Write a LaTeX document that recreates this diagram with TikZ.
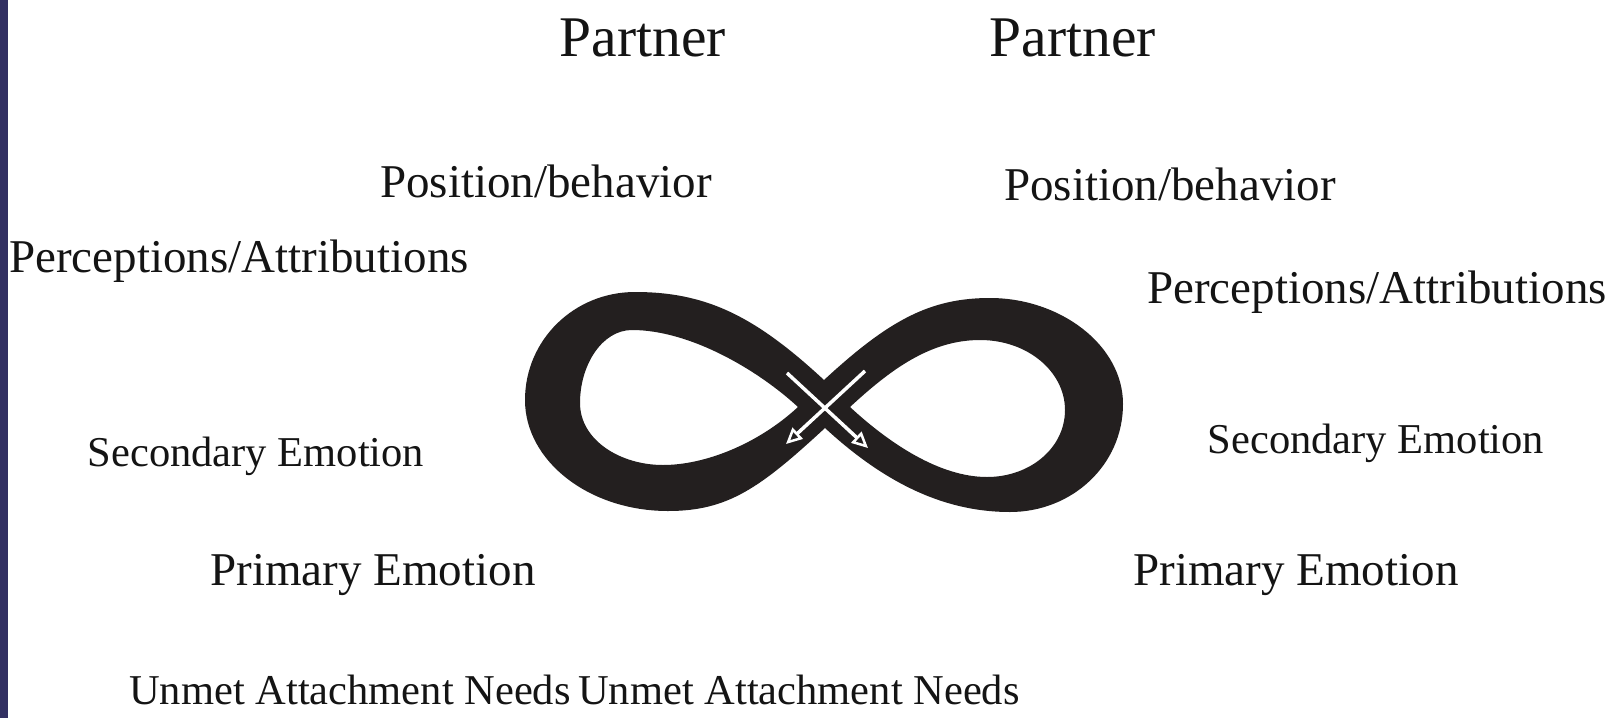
\documentclass[tikz,border=0pt]{standalone}
\usepackage{fontspec}
\setmainfont{Liberation Serif}
\usetikzlibrary{arrows.meta}
\definecolor{navy}{RGB}{50,48,98}
\definecolor{ink}{RGB}{35,31,31}
\definecolor{txt}{RGB}{20,20,20}
\begin{document}
\begin{tikzpicture}[x=1pt,y=-1pt,
  lbl/.style={inner sep=0pt, text=txt},
  big/.style={lbl, font=\fontsize{57.5}{64}\selectfont},
  midf/.style={lbl, font=\fontsize{47}{54}\selectfont},
  smallf/.style={lbl, font=\fontsize{42.5}{50}\selectfont},
  flow/.style={draw=white, line width=3.5pt, -{Triangle[open, length=16pt, width=15pt, line width=2.5pt]}}]
\useasboundingbox (0,0) rectangle (1620,718);
\fill[white] (0,0) rectangle (1620,718);
\fill[navy] (0,0) rectangle (8,718);

% labels
\node[big] (pL) at (643,38) {Partner};
\node[big] (pR) at (1073,38) {Partner};
\node[midf] (posL) at (546,181) {Position/behavior};
\node[midf] (posR) at (1170,184) {Position/behavior};
\node[midf] (perL) at (239,261) {Perceptions/Attributions};
\node[midf] (perR) at (1377,292) {Perceptions/Attributions};
\node[smallf] (secL) at (256,456) {Secondary Emotion};
\node[smallf] (secR) at (1376,443) {Secondary Emotion};
\node[midf] (priL) at (373,575) {Primary Emotion};
\node[midf] (priR) at (1296,575) {Primary Emotion};
\node[smallf] (unL) at (350,690) {Unmet Attachment Needs};
\node[smallf] (unR) at (799,690) {Unmet Attachment Needs};

% infinity loop
\fill[ink, even odd rule]
  (824,380) .. controls (754,315) and (705,292) .. (635,292)
  .. controls (574,292) and (525,340) .. (525,400)
  .. controls (525,461) and (589,511) .. (668,511)
  .. controls (728,511) and (760,488) .. (825,428)
  .. controls (890,488) and (950,512) .. (1010,512)
  .. controls (1072,512) and (1123,465) .. (1123,404)
  .. controls (1123,345) and (1060,298) .. (990,298)
  .. controls (930,298) and (889,320) .. (824,380) -- cycle
  (798,407) .. controls (758,370) and (690,330) .. (632,330)
  .. controls (602,330) and (580,365) .. (580,403)
  .. controls (580,440) and (620,465) .. (663,465)
  .. controls (705,465) and (758,444) .. (798,407) -- cycle
  (850,407) .. controls (890,370) and (930,340) .. (980,340)
  .. controls (1028,340) and (1065,372) .. (1065,410)
  .. controls (1065,448) and (1030,477) .. (987,477)
  .. controls (940,477) and (890,444) .. (850,407) -- cycle;

% arrows in the crossing
\coordinate (a1s) at (787,373);
\coordinate (a1e) at (868,448);
\coordinate (a2s) at (865,371);
\coordinate (a2e) at (786,444);
\draw[flow] (a1s) -- (a1e);
\draw[flow] (a2s) -- (a2e);
\end{tikzpicture}
\end{document}
